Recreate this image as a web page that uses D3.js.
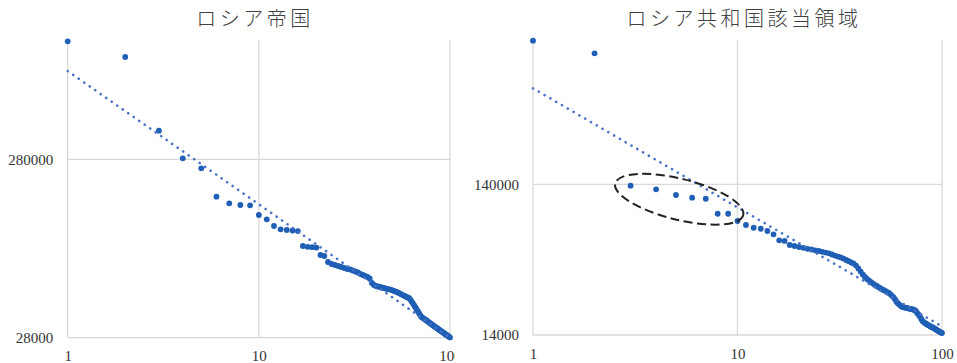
<!DOCTYPE html>
<html>
<head>
<meta charset="utf-8">
<script src="https://cdn.jsdelivr.net/npm/d3@7"></script>
<style>
  body { margin: 0; background: #fff; }
  svg { display: block; }
</style>
</head>
<body>
<div id="chart"></div>
<script>
// population by rank (rank = index + 1)
var empirePop = [
  1284000, 1048600, 405000, 283600, 249300, 172800, 158700, 155200, 154600, 136400,
  129100, 118400, 113400, 112400, 111700, 110900, 91450, 90510, 90040, 89580,
  81420, 80380, 74390, 72490, 71560, 70640, 69740, 68840, 67960, 67520,
  66660, 65800, 64960, 63710, 62900, 62090, 61290, 60120, 56730, 55280,
  54570, 54220, 53870, 53530, 53180, 52840, 52500, 52300, 52030, 51630,
  51160, 50770, 50380, 49860, 49350, 48840, 48400, 47970, 47470, 47110,
  46740, 45850, 44680, 43540, 42430, 41350, 40290, 39270, 38270, 37290,
  36580, 36200, 35830, 35460, 35100, 34730, 34380, 34030, 33680, 33330,
  33030, 32690, 32400, 32100, 31820, 31530, 31250, 30970, 30730, 30450,
  30210, 29940, 29710, 29450, 29220, 28990, 28770, 28550, 28330, 28110
];
var republicPop = [
  1255800, 1036000, 137000, 129700, 118900, 114100, 112300, 89300, 89300, 79900,
  75200, 72100, 71000, 68600, 65200, 59500, 58900, 55380, 54540, 53710,
  53060, 52250, 51700, 51070, 50530, 49910, 49310, 48710, 47890, 47100,
  46380, 45820, 44990, 44030, 43240, 42390, 41680, 40420, 38730, 36880,
  35280, 33960, 32940, 32140, 31370, 30700, 30050, 29600, 29060, 28580,
  28140, 27760, 27380, 26920, 26600, 26070, 25480, 24900, 24080, 23180,
  22650, 22210, 21810, 21510, 21380, 21280, 21180, 21080, 20960, 20860,
  20760, 20670, 20570, 20360, 19890, 19410, 19000, 18570, 17990, 17500,
  17130, 16920, 16740, 16560, 16390, 16240, 16110, 15970, 15820, 15720,
  15580, 15440, 15300, 15160, 15020, 14880, 14750, 14630, 14520, 14430
];

// power trendlines  y = a * x^b
var empireTrend = [875000, -0.747];
var republicTrend = [607000, -0.79];

var xTicks = [1, 10, 100];
var empireTicks = [28000, 280000];
var republicTicks = [14000, 140000];

// dashed ellipse annotation on the right chart: [rank, population] of its centre
var highlightCenter = [5.19, 111400];

var W = 957, H = 363;
var gridColor = "#d9d9d9";
var dotColor = "#1f5fb6";
var trendColor = "#4a72c6";

var svg = d3.select("#chart")
  .append("svg")
    .attr("width", W)
    .attr("height", H);

svg.append("defs").append("clipPath")
    .attr("id", "clipLeft")
  .append("rect")
    .attr("x", 0).attr("y", 0)
    .attr("width", 455).attr("height", H);

function drawPanel(opt) {
  var g = svg.append("g");
  if (opt.clip) g.attr("clip-path", "url(#" + opt.clip + ")");

  var x = d3.scaleLog().domain([1, 100]).range(opt.xRange);
  var y = d3.scaleLog().domain(opt.yTicks).range(opt.yRange);
  var bottom = y(opt.yTicks[0]);

  // grid
  g.selectAll(".vgrid")
    .data(xTicks)
    .enter()
    .append("line")
      .attr("x1", function(d) { return x(d); })
      .attr("x2", function(d) { return x(d); })
      .attr("y1", opt.top)
      .attr("y2", bottom)
      .style("stroke", gridColor)
      .style("stroke-width", 1.3);

  g.selectAll(".hgrid")
    .data(opt.yTicks)
    .enter()
    .append("line")
      .attr("x1", opt.xRange[0])
      .attr("x2", opt.xRange[1])
      .attr("y1", function(d) { return y(d); })
      .attr("y2", function(d) { return y(d); })
      .style("stroke", gridColor)
      .style("stroke-width", 1.3);

  // axes (labels only)
  var ax = g.append("g")
    .attr("transform", "translate(0," + bottom + ")")
    .call(d3.axisBottom(x).tickValues(xTicks).tickSize(0).tickPadding(13).tickFormat(d3.format("d")));
  var ay = g.append("g")
    .attr("transform", "translate(" + opt.xRange[0] + ",0)")
    .call(d3.axisLeft(y).tickValues(opt.yTicks).tickSize(0).tickPadding(opt.yPad).tickFormat(d3.format("d")));
  [ax, ay].forEach(function(a) {
    a.select(".domain").remove();
    a.selectAll("text")
      .attr("font-family", "'Liberation Serif', 'Times New Roman', serif")
      .style("font-size", "15px")
      .style("fill", "#333");
  });

  // points
  g.selectAll(".pt")
    .data(opt.data)
    .enter()
    .append("circle")
      .attr("cx", function(d, i) { return x(i + 1); })
      .attr("cy", function(d) { return y(d); })
      .attr("r", 2.9)
      .style("fill", dotColor);

  // trendline
  var line = d3.line()
    .x(function(d) { return x(d); })
    .y(function(d) { return y(opt.trend[0] * Math.pow(d, opt.trend[1])); });
  g.append("path")
    .datum([1, 100])
    .attr("d", line)
    .style("fill", "none")
    .style("stroke", trendColor)
    .style("stroke-width", 2.6)
    .style("stroke-linecap", "round")
    .style("stroke-dasharray", "0.1 6.6");

  // title
  svg.append("text")
    .attr("x", opt.titleX)
    .attr("y", 26)
    .attr("text-anchor", "middle")
    .attr("font-family", "'Noto Sans CJK JP', sans-serif")
    .style("font-size", "20px")
    .style("font-weight", 300)
    .style("letter-spacing", "3.5px")
    .style("fill", "#404040")
    .text(opt.title);

  return {g: g, x: x, y: y};
}

drawPanel({
  title: "ロシア帝国", titleX: 255,
  data: empirePop, trend: empireTrend, yTicks: empireTicks,
  xRange: [67.7, 450], yRange: [337.7, 159.3], top: 40, yPad: 14.5,
  clip: "clipLeft"
});

var right = drawPanel({
  title: "ロシア共和国該当領域", titleX: 744,
  data: republicPop, trend: republicTrend, yTicks: republicTicks,
  xRange: [533, 942], yRange: [335, 184.3], top: 40, yPad: 14
});

// highlight ellipse
right.g.append("ellipse")
  .attr("transform", "translate(" + right.x(highlightCenter[0]) + "," + right.y(highlightCenter[1]) + ") rotate(13.9)")
  .attr("rx", 66)
  .attr("ry", 20.5)
  .style("fill", "none")
  .style("stroke", "#222")
  .style("stroke-width", 2)
  .style("stroke-dasharray", "9 4.5");
</script>
</body>
</html>
